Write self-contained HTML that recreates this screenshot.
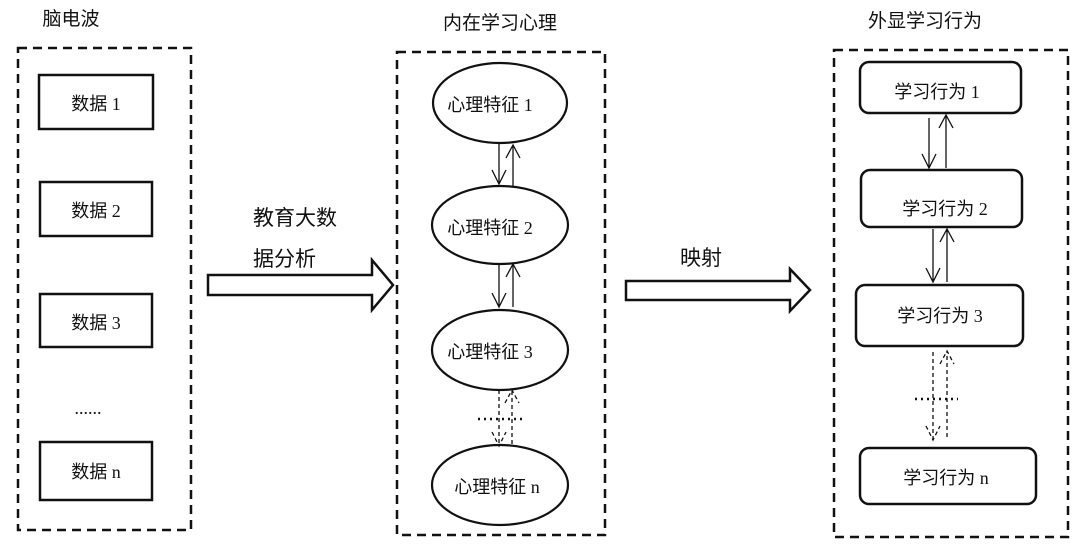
<!DOCTYPE html>
<html><head><meta charset="utf-8"><style>html,body{margin:0;padding:0;background:#fff}svg{display:block}text{font-family:"Liberation Serif","Noto Sans CJK SC",serif;fill:#111}</style></head>
<body>
<svg width="1080" height="550" viewBox="0 0 1080 550" xmlns="http://www.w3.org/2000/svg">
<defs><marker id="a" markerWidth="14" markerHeight="14" refX="7" refY="12" orient="auto" markerUnits="userSpaceOnUse"><path d="M1,0 L7,12 L13,0" fill="none" stroke="#111" stroke-width="1.3" transform="rotate(0)"/></marker></defs>
<g font-size="19" text-anchor="middle">
<text x="71" y="25">脑电波</text>
<text x="500" y="29">内在学习心理</text>
<text x="925" y="27">外显学习行为</text>
</g>
<g fill="none" stroke="#111" stroke-width="2.5" stroke-dasharray="9,6">
<rect x="18" y="48" width="173" height="482"/>
<rect x="397" y="52" width="208" height="483"/>
<rect x="834" y="50" width="234" height="487"/>
</g>
<g fill="#fff" stroke="#111" stroke-width="2.5">
<rect x="39" y="75" width="114" height="54"/>
<rect x="40" y="182" width="112" height="54"/>
<rect x="40" y="294" width="112" height="53"/>
<rect x="40" y="442" width="112" height="58"/>
</g>
<g font-size="18" text-anchor="middle">
<text x="96" y="110">数据 1</text>
<text x="96" y="217">数据 2</text>
<text x="96" y="329">数据 3</text>
<text x="96" y="478">数据 n</text>
<text x="88" y="414">......</text>
</g>
<!-- big arrows -->
<path d="M208,275 L372,275 L372,260 L393,285 L372,310 L372,295 L208,295 Z" fill="#fff" stroke="#111" stroke-width="2.5"/>
<path d="M626,281 L790,281 L790,269 L810,290 L790,311 L790,300 L626,300 Z" fill="#fff" stroke="#111" stroke-width="2.5"/>
<g font-size="21" text-anchor="start">
<text x="253" y="225">教育大数</text>
<text x="253" y="266">据分析</text>
<text x="680" y="265">映射</text>
</g>
<!-- ellipses -->
<g fill="#fff" stroke="#111" stroke-width="2.2">
<ellipse cx="500" cy="103" rx="67" ry="40"/>
<ellipse cx="500" cy="225" rx="68" ry="39"/>
<ellipse cx="500" cy="350" rx="68" ry="40"/>
<ellipse cx="500" cy="485" rx="68" ry="40"/>
</g>
<g font-size="18" text-anchor="middle">
<text x="490" y="111">心理特征 1</text>
<text x="490" y="234">心理特征 2</text>
<text x="490" y="358">心理特征 3</text>
<text x="497" y="493">心理特征 n</text>
</g>
<g stroke="#111" stroke-width="1.3" fill="none">
<path d="M499,143 V184 M492,170 L499,184 L506,170"/>
<path d="M513,186 V145 M506,158 L513,145 L520,158"/>
<path d="M499,264 V307 M492,293 L499,307 L506,293"/>
<path d="M513,307 V264 M506,277 L513,264 L520,277"/>
<path d="M499,390 V446 M492,432 L499,446 L506,432" stroke-dasharray="4,3"/>
<path d="M512,444 V390 M505,403 L512,390 L519,403" stroke-dasharray="4,3"/>
<path d="M478,419 H522" stroke-width="2.5" stroke-dasharray="2,4"/>
</g>
<!-- right rounded boxes -->
<g fill="#fff" stroke="#111" stroke-width="2.5">
<rect x="860" y="62" width="161" height="51" rx="9"/>
<rect x="861" y="170" width="161" height="57" rx="9"/>
<rect x="856" y="285" width="167" height="61" rx="9"/>
<rect x="860" y="448" width="176" height="56" rx="9"/>
</g>
<g font-size="18" text-anchor="middle">
<text x="937" y="98">学习行为 1</text>
<text x="945" y="215">学习行为 2</text>
<text x="940" y="322">学习行为 3</text>
<text x="946" y="484">学习行为 n</text>
</g>
<g stroke="#111" stroke-width="1.3" fill="none">
<path d="M929,118 V168 M922,154 L929,168 L936,154"/>
<path d="M946,168 V115 M939,128 L946,115 L953,128"/>
<path d="M933,229 V282 M926,268 L933,282 L940,268"/>
<path d="M947,282 V229 M940,242 L947,229 L954,242"/>
<path d="M933,352 V440 M926,426 L933,440 L940,426" stroke-dasharray="4,3"/>
<path d="M947,437 V351 M940,364 L947,351 L954,364" stroke-dasharray="4,3"/>
<path d="M915,399 H958" stroke-width="2.5" stroke-dasharray="2,4"/>
</g>
</svg>
</body></html>
